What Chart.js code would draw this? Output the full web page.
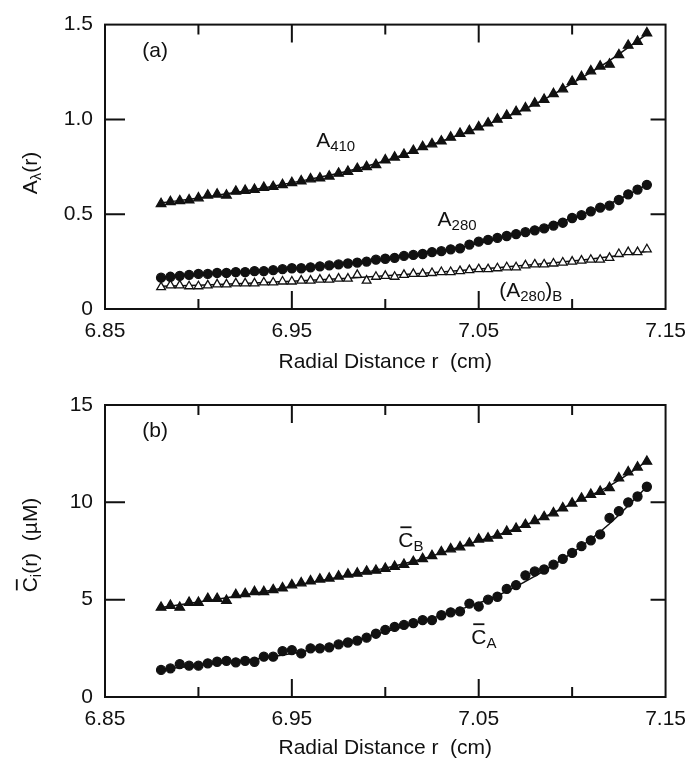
<!DOCTYPE html>
<html>
<head>
<meta charset="utf-8">
<script src="https://cdn.jsdelivr.net/npm/chart.js@4.4.1/dist/chart.umd.min.js"></script>
<style>
  html, body { margin: 0; padding: 0; background: #fff; }
  .wrap { position: absolute; left: 0; width: 696px; }
  #top { top: 0; height: 380px; }
  #bot { top: 380px; height: 379px; }
</style>
</head>
<body>
<div class="wrap" id="top"><canvas id="c1" width="696" height="380"></canvas></div>
<div class="wrap" id="bot"><canvas id="c2" width="696" height="379"></canvas></div>
<script>
// radial positions (cm) of the scan points
const radius = [
  6.880, 6.885, 6.890, 6.895, 6.900, 6.905, 6.910, 6.915, 6.920, 6.925,
  6.930, 6.935, 6.940, 6.945, 6.950, 6.955, 6.960, 6.965, 6.970, 6.975,
  6.980, 6.985, 6.990, 6.995, 7.000, 7.005, 7.010, 7.015, 7.020, 7.025,
  7.030, 7.035, 7.040, 7.045, 7.050, 7.055, 7.060, 7.065, 7.070, 7.075,
  7.080, 7.085, 7.090, 7.095, 7.100, 7.105, 7.110, 7.115, 7.120, 7.125,
  7.130, 7.135, 7.140
];
// panel (a) absorbances
const a410 = [
  0.555, 0.565, 0.570, 0.575, 0.585, 0.600, 0.605, 0.600, 0.620, 0.625,
  0.630, 0.640, 0.645, 0.655, 0.665, 0.675, 0.685, 0.690, 0.700, 0.715,
  0.725, 0.740, 0.750, 0.760, 0.785, 0.800, 0.815, 0.835, 0.855, 0.870,
  0.885, 0.905, 0.925, 0.940, 0.960, 0.980, 1.000, 1.020, 1.040, 1.060,
  1.085, 1.105, 1.135, 1.160, 1.200, 1.225, 1.255, 1.280, 1.290, 1.340,
  1.390, 1.410, 1.455
];
const a280 = [
  0.165, 0.170, 0.175, 0.180, 0.185, 0.185, 0.190, 0.190, 0.195, 0.195,
  0.200, 0.200, 0.205, 0.210, 0.215, 0.215, 0.220, 0.225, 0.230, 0.235,
  0.240, 0.245, 0.250, 0.260, 0.265, 0.270, 0.280, 0.285, 0.290, 0.300,
  0.305, 0.315, 0.320, 0.340, 0.355, 0.365, 0.375, 0.385, 0.395, 0.405,
  0.415, 0.425, 0.440, 0.455, 0.480, 0.495, 0.515, 0.535, 0.545, 0.575,
  0.605, 0.630, 0.655
];
const a280B = [
  0.115, 0.125, 0.125, 0.120, 0.120, 0.125, 0.130, 0.130, 0.135, 0.135,
  0.135, 0.140, 0.140, 0.145, 0.145, 0.150, 0.150, 0.155, 0.155, 0.160,
  0.160, 0.180, 0.150, 0.170, 0.175, 0.170, 0.180, 0.185, 0.185, 0.190,
  0.195, 0.195, 0.200, 0.205, 0.210, 0.210, 0.215, 0.220, 0.220, 0.230,
  0.235, 0.235, 0.240, 0.245, 0.250, 0.255, 0.260, 0.260, 0.270, 0.290,
  0.300, 0.300, 0.315
];
// panel (b) concentrations (uM)
const cB = [
  4.60, 4.70, 4.60, 4.85, 4.85, 5.05, 5.05, 4.95, 5.25, 5.30,
  5.40, 5.40, 5.50, 5.60, 5.75, 5.85, 5.95, 6.05, 6.10, 6.20,
  6.30, 6.35, 6.45, 6.50, 6.60, 6.70, 6.80, 6.95, 7.10, 7.25,
  7.45, 7.60, 7.70, 7.90, 8.10, 8.15, 8.30, 8.50, 8.65, 8.85,
  9.05, 9.25, 9.45, 9.70, 9.95, 10.20, 10.40, 10.55, 10.75, 11.25,
  11.55, 11.80, 12.10
];
const cA = [
  1.39, 1.47, 1.69, 1.61, 1.61, 1.73, 1.81, 1.86, 1.78, 1.86,
  1.81, 2.07, 2.07, 2.36, 2.41, 2.24, 2.50, 2.50, 2.55, 2.70,
  2.80, 2.90, 3.05, 3.25, 3.45, 3.60, 3.70, 3.80, 3.95, 3.95,
  4.20, 4.35, 4.40, 4.80, 4.65, 5.00, 5.15, 5.55, 5.75, 6.25,
  6.45, 6.55, 6.80, 7.10, 7.40, 7.75, 8.05, 8.35, 9.20, 9.55,
  10.00, 10.30, 10.80
];
// smooth fitted curves
const fitR   = [6.88, 6.90, 6.92, 6.94, 6.96, 6.98, 7.00, 7.02, 7.04, 7.06, 7.08, 7.10, 7.12, 7.14];
const fit410 = [0.560, 0.585, 0.615, 0.648, 0.685, 0.728, 0.782, 0.850, 0.920, 0.995, 1.080, 1.190, 1.310, 1.450];
const fit280 = [0.168, 0.182, 0.195, 0.207, 0.222, 0.240, 0.262, 0.290, 0.325, 0.370, 0.420, 0.480, 0.555, 0.655];
const fit280B = [0.120, 0.125, 0.133, 0.142, 0.152, 0.162, 0.175, 0.188, 0.203, 0.218, 0.235, 0.253, 0.275, 0.305];
const fitCB  = [4.60, 4.88, 5.18, 5.50, 5.88, 6.25, 6.62, 7.10, 7.72, 8.32, 9.03, 9.93, 10.85, 12.10];
const fitCA  = [1.42, 1.62, 1.82, 2.08, 2.42, 2.82, 3.35, 3.90, 4.50, 5.20, 6.20, 7.40, 8.90, 10.80];

// axis ticks
const xTickVals = [6.85, 6.95, 7.05, 7.15];
const xTickLabels = ['6.85', '6.95', '7.05', '7.15'];
const xMinorVals = [6.90, 7.00, 7.10];
const yTickValsA = [0, 0.5, 1.0, 1.5];
const yTickLabelsA = ['0', '0.5', '1.0', '1.5'];
const yTickValsB = [0, 5, 10, 15];
const yTickLabelsB = ['0', '5', '10', '15'];

const FONT = '"Liberation Sans", Arial, Helvetica, sans-serif';
const INK = '#111';

function pts(xs, ys) { return xs.map((x, i) => ({x: x, y: ys[i]})); }

function richWidth(ctx, parts) {
  let w = 0;
  parts.forEach(p => { ctx.font = p.s + 'px ' + FONT; w += ctx.measureText(p.t).width; });
  return w;
}
function drawRich(ctx, parts, x, y, center) {
  let cx = center ? x - richWidth(ctx, parts) / 2 : x;
  parts.forEach(p => {
    ctx.font = p.s + 'px ' + FONT;
    ctx.fillText(p.t, cx, y + (p.dy || 0));
    const w = ctx.measureText(p.t).width;
    if (p.over) ctx.fillRect(cx + 2, y - p.s * 0.72 - 6, w - 4, 1.8);
    cx += w;
  });
}

// frame, inward ticks, labels and titles
const decor = {
  id: 'decor',
  afterDraw(chart, args, o) {
    const ctx = chart.ctx, a = chart.chartArea, x = chart.scales.x, y = chart.scales.y;
    ctx.save();
    ctx.strokeStyle = INK;
    ctx.lineWidth = 2;
    ctx.strokeRect(a.left, a.top, a.right - a.left, a.bottom - a.top);
    ctx.beginPath();
    xTickVals.slice(1, -1).forEach(v => {
      const px = x.getPixelForValue(v);
      ctx.moveTo(px, a.bottom); ctx.lineTo(px, a.bottom - 18);
      ctx.moveTo(px, a.top); ctx.lineTo(px, a.top + 18);
    });
    xMinorVals.forEach(v => {
      const px = x.getPixelForValue(v);
      ctx.moveTo(px, a.bottom); ctx.lineTo(px, a.bottom - 10);
      ctx.moveTo(px, a.top); ctx.lineTo(px, a.top + 10);
    });
    o.yInner.forEach(v => {
      const py = y.getPixelForValue(v);
      ctx.moveTo(a.left, py); ctx.lineTo(a.left + 20, py);
      ctx.moveTo(a.right, py); ctx.lineTo(a.right - 15, py);
    });
    ctx.stroke();

    ctx.fillStyle = INK;
    ctx.textBaseline = 'alphabetic';
    o.texts.forEach(t => {
      drawRich(ctx, t.parts, x.getPixelForValue(t.x), y.getPixelForValue(t.y), false);
    });
    // x title
    ctx.textBaseline = 'middle';
    ctx.font = '21px ' + FONT;
    ctx.textAlign = 'center';
    ctx.fillText('Radial Distance r  (cm)', (a.left + a.right) / 2, o.xTitleY);
    ctx.textAlign = 'left';
    ctx.textBaseline = 'alphabetic';
    // y title, rotated
    ctx.translate(o.yTitle.x, o.yTitle.y);
    ctx.rotate(-Math.PI / 2);
    drawRich(ctx, o.yTitle.parts, 0, 7, true);
    ctx.restore();
  }
};

function makeChart(id, datasets, yMax, yVals, yLabels, xH, pad, dec) {
  return new Chart(document.getElementById(id), {
    type: 'scatter',
    data: {datasets: datasets},
    options: {
      responsive: false,
      animation: false,
      events: [],
      layout: {padding: pad},
      plugins: {legend: {display: false}, tooltip: {enabled: false}, decor: dec},
      scales: {
        x: {
          type: 'linear', min: 6.85, max: 7.15,
          afterBuildTicks: s => { s.ticks = xTickVals.map(v => ({value: v})); },
          afterFit: s => { s.height = xH; },
          grid: {display: false, drawTicks: false}, border: {display: false},
          ticks: {
            padding: 10, color: INK, font: {family: FONT, size: 21},
            maxRotation: 0, autoSkip: false,
            callback: v => xTickLabels[xTickVals.findIndex(t => Math.abs(t - v) < 1e-6)]
          }
        },
        y: {
          type: 'linear', min: 0, max: yMax,
          afterBuildTicks: s => { s.ticks = yVals.map(v => ({value: v})); },
          afterFit: s => { s.width = 105; },
          grid: {display: false, drawTicks: false}, border: {display: false},
          ticks: {
            padding: 12, color: INK, font: {family: FONT, size: 21},
            callback: v => yLabels[yVals.findIndex(t => Math.abs(t - v) < 1e-6)]
          }
        }
      }
    },
    plugins: [decor]
  });
}

function markers(data, style, r, fill) {
  return {data: data, showLine: false, pointStyle: style, pointRadius: r,
    pointBackgroundColor: fill, pointBorderColor: INK, pointBorderWidth: 1.3};
}
function curve(data) {
  return {data: data, showLine: true, pointRadius: 0, borderColor: INK,
    borderWidth: 1.5, tension: 0.4, fill: false};
}

makeChart('c1', [
  markers(pts(radius, a410), 'triangle', 5.5, INK),
  markers(pts(radius, a280), 'circle', 4.5, INK),
  markers(pts(radius, a280B), 'triangle', 5, '#fff'),
  curve(pts(fitR, fit410)),
  curve(pts(fitR, fit280)),
  curve(pts(fitR, fit280B))
], 1.5, yTickValsA, yTickLabelsA, 71, {top: 20, right: 25, left: 0, bottom: 0}, {
  yInner: [0.5, 1.0],
  xTitleY: 362,
  yTitle: {x: 30, y: 173, parts: [{t: 'A', s: 21}, {t: 'λ', s: 15, dy: 4}, {t: '(r)', s: 21}]},
  texts: [
    {x: 6.870, y: 1.33, parts: [{t: '(a)', s: 21}]},
    {x: 6.963, y: 0.855, parts: [{t: 'A', s: 21}, {t: '410', s: 15, dy: 4}]},
    {x: 7.028, y: 0.439, parts: [{t: 'A', s: 21}, {t: '280', s: 15, dy: 4}]},
    {x: 7.061, y: 0.062, parts: [{t: '(A', s: 21}, {t: '280', s: 15, dy: 4}, {t: ')', s: 21}, {t: 'B', s: 15, dy: 4}]}
  ]
});

makeChart('c2', [
  markers(pts(radius, cB), 'triangle', 5.5, INK),
  markers(pts(radius, cA), 'circle', 4.5, INK),
  curve(pts(fitR, fitCB)),
  curve(pts(fitR, fitCA))
], 15, yTickValsB, yTickLabelsB, 62, {top: 25, right: 25, left: 0, bottom: 0}, {
  yInner: [5, 10],
  xTitleY: 368,
  yTitle: {x: 30, y: 165, parts: [{t: 'C', s: 21, over: true}, {t: 'i', s: 15, dy: 4}, {t: '(r)  (µM)', s: 21}]},
  texts: [
    {x: 6.870, y: 13.35, parts: [{t: '(b)', s: 21}]},
    {x: 7.007, y: 7.68, parts: [{t: 'C', s: 21, over: true}, {t: 'B', s: 15, dy: 4}]},
    {x: 7.046, y: 2.70, parts: [{t: 'C', s: 21, over: true}, {t: 'A', s: 15, dy: 4}]}
  ]
});
</script>
</body>
</html>
